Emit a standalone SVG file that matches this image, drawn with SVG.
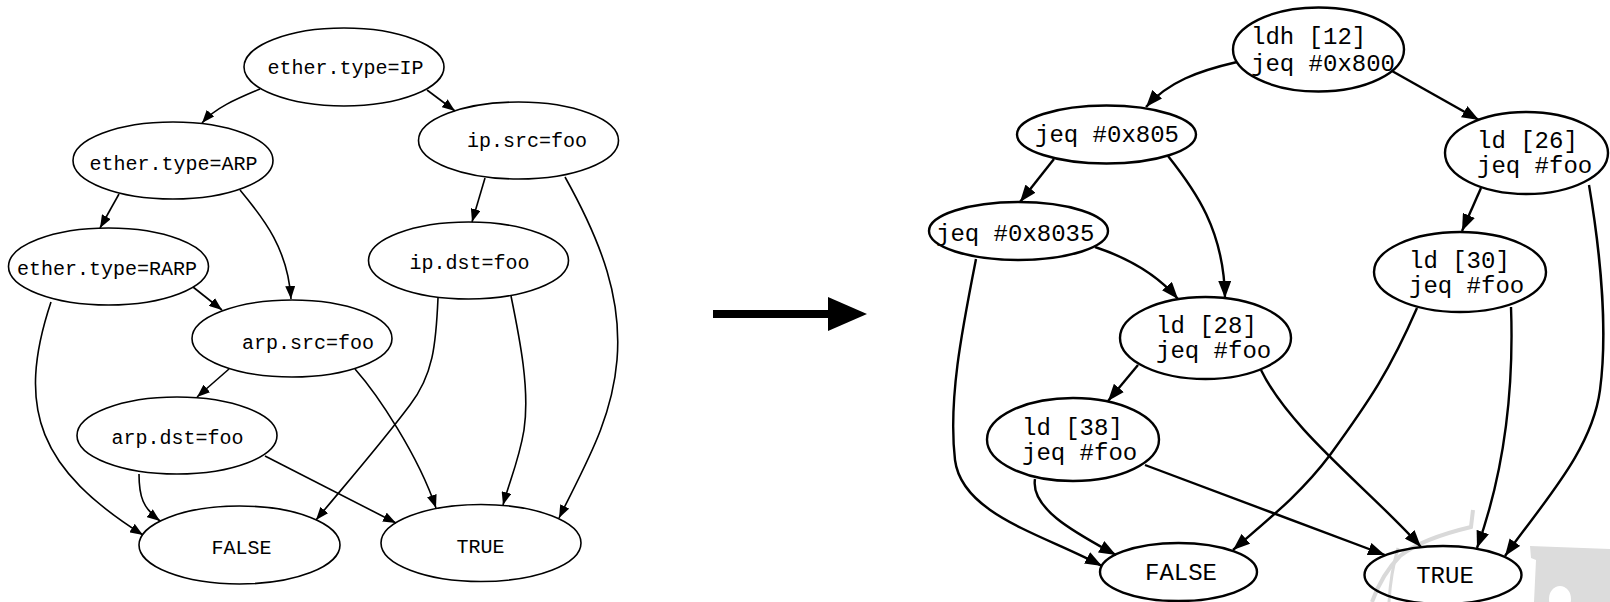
<svg xmlns="http://www.w3.org/2000/svg" width="1610" height="602" viewBox="0 0 1610 602">
  <defs>
    <style>
      .node ellipse { fill: none; stroke: #000; }
      .l ellipse { stroke-width: 1.6; }
      .r ellipse { stroke-width: 2.4; }
      text { font-family: "Liberation Mono", "Courier New", monospace; fill: #000; }
      .l text { font-size: 20px; text-anchor: middle; }
      .r text { font-size: 24px; }
      .r text.c { text-anchor: middle; }
      .edges path { fill: none; stroke: #000; }
      .edges .el { stroke-width: 1.6; marker-end: url(#hl); }
      .edges .er { stroke-width: 2.4; marker-end: url(#hr); }
    </style>
    <marker id="hl" markerUnits="userSpaceOnUse" viewBox="0 0 13 10" markerWidth="13" markerHeight="10" refX="13" refY="5" orient="auto">
      <path d="M0,0 L13,5 L0,10 Z" fill="#000"/>
    </marker>
    <marker id="hr" markerUnits="userSpaceOnUse" viewBox="0 0 17 13" markerWidth="17" markerHeight="13" refX="17" refY="6.5" orient="auto">
      <path d="M0,0 L17,6.5 L0,13 Z" fill="#000"/>
    </marker>
  </defs>

  <rect width="1610" height="602" fill="#fff"/>

  <!-- faint logo fragment, bottom right -->
  <g id="logo" fill="none" stroke="#d9d9d9">
    <path d="M1473,510 L1471,527 C1450,532 1420,540 1400,556 C1388,568 1378,585 1372,602" stroke-width="4"/>
    <path d="M1398,548 C1393,565 1390,585 1389,602" stroke-width="3"/>
    <path d="M1530,546 L1610,549 L1610,602 L1534,602 L1536,560 L1531,558 Z" fill="#dcdcdc" stroke="none"/>
    <ellipse cx="1560" cy="599" rx="11" ry="13" fill="#fff" stroke="none"/>
  </g>

  <!-- connectors -->
  <g id="connectors" class="edges">
    <!-- filter expression graph -->
    <path class="el" d="M260,89 C236,99 215,108 202,123"/>
    <path class="el" d="M427,90 L455,111"/>
    <path class="el" d="M119,194 L100,228"/>
    <path class="el" d="M240,190 C265,220 288,250 291,299"/>
    <path class="el" d="M193,287 L222,310"/>
    <path class="el" d="M51,302 C15,410 40,470 143,535"/>
    <path class="el" d="M229,369 L197,397"/>
    <path class="el" d="M355,369 C378,395 418,455 436,508"/>
    <path class="el" d="M139,474 C139,497 143,508 160,521"/>
    <path class="el" d="M265,456 L396,523"/>
    <path class="el" d="M485,178 L472,222"/>
    <path class="el" d="M565,177 C603,245 622,300 617,360 C612,420 585,465 559,518"/>
    <path class="el" d="M438,298 C436,345 433,375 410,405 C380,445 345,485 316,520"/>
    <path class="el" d="M511,296 C520,340 530,390 524,430 C519,460 510,480 503,505"/>

    <!-- compiled program graph -->
    <path class="er" d="M1237,62 C1198,71 1168,82 1146,107"/>
    <path class="er" d="M1392,71 L1479,120"/>
    <path class="er" d="M1054,159 L1020,202"/>
    <path class="er" d="M1168,156 C1195,190 1224,230 1225,298"/>
    <path class="er" d="M1095,247 C1125,257 1155,272 1178,299"/>
    <path class="er" d="M976,259 C962,330 948,400 955,460 C962,515 1045,535 1102,566"/>
    <path class="er" d="M1138,365 L1108,401"/>
    <path class="er" d="M1261,370 C1290,430 1370,490 1421,547"/>
    <path class="er" d="M1035,479 C1030,510 1080,535 1116,555"/>
    <path class="er" d="M1145,465 L1385,555"/>
    <path class="er" d="M1417,308 C1390,370 1370,400 1330,455 C1300,495 1265,522 1233,550"/>
    <path class="er" d="M1511,307 C1514,390 1505,470 1477,548"/>
    <path class="er" d="M1481,188 L1462,231"/>
    <path class="er" d="M1589,185 C1600,250 1608,330 1600,390 C1592,450 1545,500 1505,556"/>
  </g>

  <!-- transformation arrow -->
  <g id="transform-arrow" fill="#000">
    <rect x="713" y="310" width="117" height="8"/>
    <path d="M828,297 L867,314 L828,331 Z"/>
  </g>

  <!-- filter expression nodes -->
  <g id="n-ether-ip" class="node l"><ellipse cx="344" cy="67" rx="100" ry="39"/><text x="345.5" y="74">ether.type=IP</text></g>
  <g id="n-ether-arp" class="node l"><ellipse cx="173" cy="160.5" rx="100" ry="38.5"/><text x="173.5" y="170">ether.type=ARP</text></g>
  <g id="n-ip-src" class="node l"><ellipse cx="518.5" cy="140.5" rx="100" ry="38.5"/><text x="527" y="147">ip.src=foo</text></g>
  <g id="n-ether-rarp" class="node l"><ellipse cx="108.5" cy="266.5" rx="100" ry="38.5"/><text x="107" y="275">ether.type=RARP</text></g>
  <g id="n-ip-dst" class="node l"><ellipse cx="468.5" cy="260.5" rx="100" ry="38.5"/><text x="469.5" y="269">ip.dst=foo</text></g>
  <g id="n-arp-src" class="node l"><ellipse cx="292" cy="338.5" rx="100" ry="38.5"/><text x="308" y="349">arp.src=foo</text></g>
  <g id="n-arp-dst" class="node l"><ellipse cx="177" cy="435.5" rx="100" ry="38.5"/><text x="177.5" y="444">arp.dst=foo</text></g>
  <g id="n-false-l" class="node l"><ellipse cx="239.5" cy="545" rx="100.5" ry="39"/><text x="241.5" y="554">FALSE</text></g>
  <g id="n-true-l" class="node l"><ellipse cx="481" cy="543" rx="100" ry="38.5"/><text x="480.5" y="553">TRUE</text></g>

  <!-- compiled program nodes -->
  <g id="n-ldh12" class="node r"><ellipse cx="1318.5" cy="49.5" rx="85.5" ry="42"/><text x="1251" y="44">ldh [12]</text><text x="1251" y="71">jeq #0x800</text></g>
  <g id="n-jeq805" class="node r"><ellipse cx="1106.5" cy="134.5" rx="89.5" ry="29"/><text x="1035" y="142">jeq #0x805</text></g>
  <g id="n-jeq8035" class="node r"><ellipse cx="1018.5" cy="231" rx="89.5" ry="29"/><text x="936" y="241">jeq #0x8035</text></g>
  <g id="n-ld26" class="node r"><ellipse cx="1526.5" cy="153" rx="81.5" ry="41"/><text x="1477" y="148">ld [26]</text><text x="1477" y="173">jeq #foo</text></g>
  <g id="n-ld30" class="node r"><ellipse cx="1460" cy="272" rx="86" ry="40"/><text x="1409" y="268">ld [30]</text><text x="1409" y="293">jeq #foo</text></g>
  <g id="n-ld28" class="node r"><ellipse cx="1205.5" cy="338" rx="85.5" ry="41"/><text x="1156" y="333">ld [28]</text><text x="1156" y="358">jeq #foo</text></g>
  <g id="n-ld38" class="node r"><ellipse cx="1073" cy="439.5" rx="86" ry="41.5"/><text x="1022" y="435">ld [38]</text><text x="1022" y="460">jeq #foo</text></g>
  <g id="n-false-r" class="node r"><ellipse cx="1178.5" cy="572" rx="78.5" ry="29"/><text class="c" x="1181" y="580">FALSE</text></g>
  <g id="n-true-r" class="node r"><ellipse cx="1443" cy="575" rx="78.5" ry="29"/><text class="c" x="1445" y="583">TRUE</text></g>
</svg>
